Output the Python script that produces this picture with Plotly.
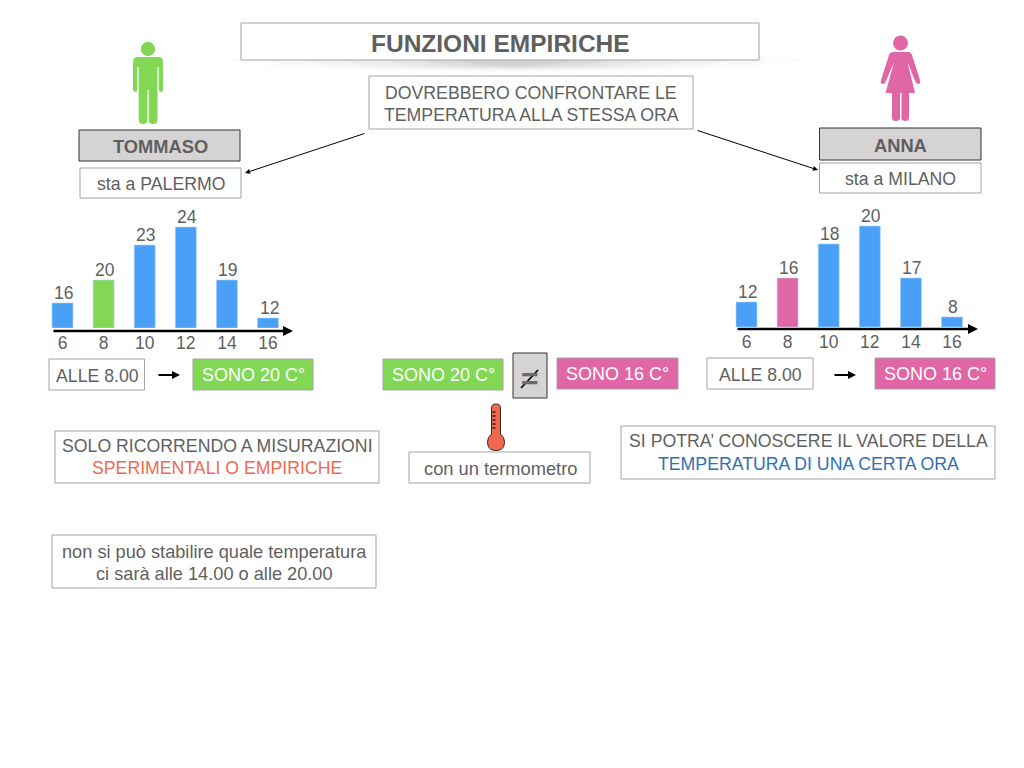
import plotly.graph_objects as go

# ---- data ----
hours = [6, 8, 10, 12, 14, 16]
tommaso_temps = [16, 20, 23, 24, 19, 12]
anna_temps = [12, 16, 18, 20, 17, 8]
# the bars are not drawn to scale in the original: drawn heights
tommaso_drawn = [25, 48, 83, 101, 48, 10]
anna_drawn = [25, 49, 83, 101, 49, 10]

FONT = "Liberation Sans"
GREY = "#5f5f5f"
EDGE = "#a3a3a3"
BLUE = "#4a9ff7"
GREEN = "#82d855"
PINK = "#e066a6"
BOX = "#d5d3d4"
RED = "#f0694f"
DEEP = "#2f6fb5"

fig = go.Figure()


def bar_colors(hi):
    return [hi if h == 8 else BLUE for h in hours]


# bar charts
fig.add_trace(go.Bar(x=hours, y=tommaso_drawn, width=1.02,
                     marker=dict(color=bar_colors(GREEN), line=dict(color="#a9d3fb", width=0.6)),
                     xaxis="x", yaxis="y", showlegend=False, hoverinfo="skip"))
fig.add_trace(go.Bar(x=hours, y=anna_drawn, width=1.02,
                     marker=dict(color=bar_colors(PINK), line=dict(color="#a9d3fb", width=0.6)),
                     xaxis="x2", yaxis="y2", showlegend=False, hoverinfo="skip"))
# empty trace so the full-page pixel overlay axes exist
fig.add_trace(go.Scatter(x=[None], y=[None], xaxis="x3", yaxis="y3",
                         showlegend=False, hoverinfo="skip"))

shapes = []
annos = []


def box(x0, y0, x1, y1, fill="white", edge=EDGE, w=1):
    shapes.append(dict(type="rect", x0=x0, y0=y0, x1=x1, y1=y1, xref="x3", yref="y3",
                       fillcolor=fill, line=dict(color=edge, width=w), layer="below"))


def label(x, y, text, size=17.7, color=GREY, bold=False):
    t = f"<b>{text}</b>" if bold else text
    annos.append(dict(x=x, y=y, xref="x3", yref="y3", text=t, showarrow=False,
                      xanchor="center", yanchor="middle",
                      font=dict(family=FONT, size=size, color=color)))


def arrow(x0, y0, x1, y1, w=1.0, size=1.0):
    annos.append(dict(x=x1, y=y1, ax=x0, ay=y0, xref="x3", yref="y3", axref="x3", ayref="y3",
                      text="", showarrow=True, arrowhead=2, arrowsize=size, arrowwidth=w,
                      arrowcolor="black", standoff=0))


def path(d, fill):
    shapes.append(dict(type="path", path=d, xref="x3", yref="y3", fillcolor=fill,
                       line=dict(width=0), layer="below"))


def disc(cx, cy, r, fill, edge=None):
    shapes.append(dict(type="circle", x0=cx - r, x1=cx + r, y0=cy - r, y1=cy + r,
                       xref="x3", yref="y3", fillcolor=fill, layer="below",
                       line=dict(width=1 if edge else 0, color=edge or fill)))


# value labels sit on the drawn bars
for xr, yr, xs, ds, vs in [("x", "y", hours, tommaso_drawn, tommaso_temps),
                           ("x2", "y2", hours, anna_drawn, anna_temps)]:
    for h, d, v in zip(xs, ds, vs):
        annos.append(dict(x=h, y=d, xref=xr, yref=yr, text=str(v), showarrow=False,
                          xanchor="center", yanchor="middle", yshift=10, xshift=1,
                          font=dict(family=FONT, size=17.5, color=GREY)))

# title shadow
for rx, ry, op in [(285, 12, .012), (250, 11, .015), (210, 10, .02), (170, 9, .025),
                   (130, 8, .03), (90, 7, .035), (55, 6, .04)]:
    shapes.append(dict(type="circle", x0=515 - rx, x1=515 + rx, y0=60 - ry, y1=60 + ry,
                       xref="x3", yref="y3", fillcolor=f"rgba(0,0,0,{op})",
                       line=dict(width=0), layer="below"))

box(241, 23, 759, 60)
label(500.5, 43, "FUNZIONI EMPIRICHE", size=24.5, bold=True)

box(369, 76, 693, 129)
label(531, 93, "DOVREBBERO CONFRONTARE LE")
label(531, 115, "TEMPERATURA ALLA STESSA ORA")
arrow(366, 133, 245, 173)
arrow(696, 130, 818, 170)

# people
disc(148, 49, 7.2, GREEN)
path("M 138 57 L 158 57 Q 163 57 163 62 L 163 89 Q 163 92 161 92 Q 158.7 92 158.7 89 L 158.7 67 "
     "L 157.5 67 L 157.5 120 Q 157.5 124 153 124 Q 148.7 124 148.7 120 L 148.7 90 L 147.5 90 "
     "L 147.5 120 Q 147.5 124 143 124 Q 138.7 124 138.7 120 L 138.7 67 L 137.4 67 L 137.4 89 "
     "Q 137.4 92 135.2 92 Q 133 92 133 89 L 133 62 Q 133 57 138 57 Z", GREEN)
disc(900.5, 43, 7.5, PINK)
path("M 893 52 L 908 52 Q 911 52 912 55 L 920 80 Q 921 84 918 84 Q 916 84 915 81 L 907.5 62 "
     "L 915 93 L 909 93 L 909 118 Q 909 121 905.2 121 Q 901.5 121 901.5 118 L 901.5 93 L 900 93 "
     "L 900 118 Q 900 121 896 121 Q 892 121 892 118 L 892 93 L 885.5 93 L 894 62 L 886 81 "
     "Q 885 84 882.5 84 Q 880 84 881 80 L 889 55 Q 890 52 893 52 Z", PINK)

# names
box(79, 130, 240, 161, fill=BOX, edge="#333333")
label(160, 146, "TOMMASO", size=18.3, bold=True)
box(80, 168, 241, 198)
label(160.5, 184, "sta a PALERMO")
box(819.5, 128, 981, 160, fill=BOX, edge="#333333")
label(900.5, 145, "ANNA", size=18.3, bold=True)
box(819.5, 163, 981, 193)
label(900.5, 179, "sta a MILANO")

# chart axes with arrow
arrow(52, 331, 293, 331, w=2.5, size=0.8)
arrow(736, 329, 978, 329, w=2.5, size=0.8)

# row of statements
box(49, 359, 144.5, 390)
label(97, 376, "ALLE 8.00")
arrow(157, 375, 180, 375, w=2, size=0.8)
box(193, 359, 313, 390, fill=GREEN)
label(253, 375, "SONO 20 C°", size=18, color="white")

box(383, 359, 503, 390, fill=GREEN)
label(443, 375, "SONO 20 C°", size=18, color="white")
box(513, 353, 547, 398, fill=BOX, edge="#333333")
label(530, 378, "<b>=</b>", size=30, color="#6a6a6a")
shapes.append(dict(type="line", x0=521, y0=388, x1=538, y1=370, xref="x3", yref="y3",
                   line=dict(color="black", width=1.6)))
box(557, 358, 678, 389, fill=PINK)
label(617.5, 374, "SONO 16 C°", size=18, color="white")

box(707, 358, 813, 389)
label(760, 375, "ALLE 8.00")
arrow(833, 375, 856, 375, w=2, size=0.8)
box(875, 358, 995, 389, fill=PINK)
label(935, 374, "SONO 16 C°", size=18, color="white")

# thermometer
path("M 491.5 408 Q 491.5 404 496 404 Q 500.5 404 500.5 408 L 500.5 434 Q 504.5 437 504.5 442 "
     "Q 504.5 450.5 496 450.5 Q 487.5 450.5 487.5 442 Q 487.5 437 491.5 434 Z", RED)
shapes[-1]["line"] = dict(color="#3a2a28", width=1)
for yy in (412, 416, 420, 424, 428):
    shapes.append(dict(type="line", x0=492.5, x1=495.5, y0=yy, y1=yy, xref="x3", yref="y3",
                       line=dict(color="#222222", width=1.5)))

box(409, 452, 590, 483)
label(500, 468, "con un termometro", size=18.3)

box(55, 431, 379, 483)
label(217, 446, "SOLO RICORRENDO A MISURAZIONI")
label(217, 468, "SPERIMENTALI O EMPIRICHE", color=RED)

box(621, 426, 995, 479)
label(808, 441, "SI POTRA’ CONOSCERE IL VALORE DELLA")
label(808, 464, "TEMPERATURA DI UNA CERTA ORA", color=DEEP)

box(52, 535, 376, 588)
label(214, 552, "non si può stabilire quale temperatura", size=18.2)
label(214, 574, "ci sarà alle 14.00 o alle 20.00", size=18.2)


def xdom(a, b):
    return [a / 1024, b / 1024]


def ydom(top, bottom):
    return [1 - bottom / 768, 1 - top / 768]


tick_font = dict(family=FONT, size=17.5, color=GREY)
axis_common = dict(tickmode="array", tickvals=hours, ticktext=[str(h) for h in hours],
                   ticks="", showline=False, showgrid=False, zeroline=False,
                   tickfont=tick_font, ticklabelstandoff=2)
yaxis_common = dict(range=[0, 128], visible=False, showgrid=False, zeroline=False)

fig.update_layout(
    width=1024, height=768, margin=dict(l=0, r=0, t=0, b=0, pad=0, autoexpand=False),
    paper_bgcolor="white", plot_bgcolor="rgba(0,0,0,0)", showlegend=False, barmode="overlay",
    xaxis=dict(domain=xdom(40, 300), range=[4.905, 17.557], anchor="y", **axis_common),
    yaxis=dict(domain=ydom(200, 328), anchor="x", **yaxis_common),
    xaxis2=dict(domain=xdom(724, 984), range=[4.905, 17.557], anchor="y2", **axis_common),
    yaxis2=dict(domain=ydom(199, 327), anchor="x2", **yaxis_common),
    xaxis3=dict(domain=[0, 1], range=[0, 1024], visible=False, anchor="y3", fixedrange=True),
    yaxis3=dict(domain=[0, 1], range=[768, 0], visible=False, anchor="x3", fixedrange=True),
    shapes=shapes, annotations=annos,
)

fig.write_html("out.html", config=dict(displayModeBar=False),
               post_script="document.body.style.margin='0';document.body.style.overflow='hidden';")
